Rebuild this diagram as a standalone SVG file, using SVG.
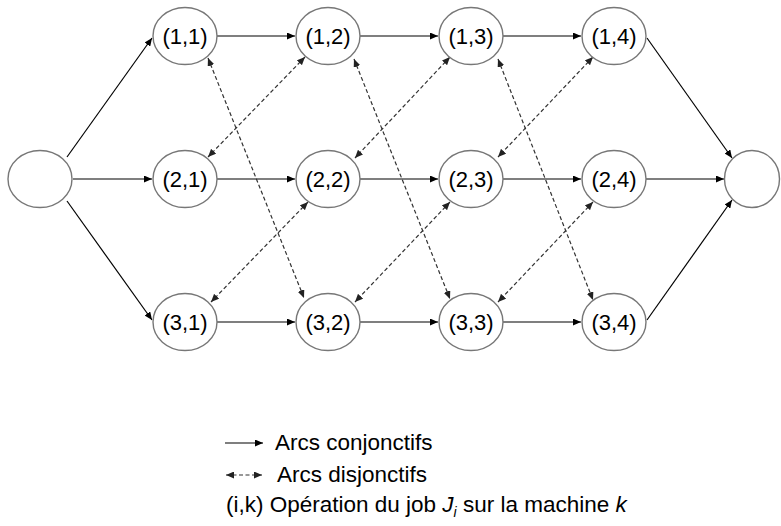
<svg xmlns="http://www.w3.org/2000/svg" width="781" height="526" viewBox="0 0 781 526">
<style>
.node ellipse{fill:#fff;stroke:#777;stroke-width:1.4}
.node text,.legend text{font-family:"Liberation Sans",Arial,sans-serif;font-size:22px;fill:#000}
.legend text{font-size:22.5px}
.node text{text-anchor:middle}
.conj{stroke:#000;stroke-width:1.2;fill:none;marker-end:url(#ah)}
.disj{stroke:#333;stroke-width:1.2;fill:none;stroke-dasharray:4 2.5;marker-start:url(#ahd);marker-end:url(#ahd)}
</style>
<defs>
<marker id="ah" markerUnits="userSpaceOnUse" markerWidth="9" markerHeight="7" refX="8" refY="3.5" orient="auto"><path d="M0,0 L8,3.5 L0,7 Z" fill="#000"/></marker>
<marker id="ahd" markerUnits="userSpaceOnUse" markerWidth="9" markerHeight="7" refX="8" refY="3.5" orient="auto-start-reverse"><path d="M0,0 L8,3.5 L0,7 Z" fill="#222"/></marker>
</defs>
<rect width="781" height="526" fill="#fff"/>
<g id="connectors">
<line class="conj" x1="67" y1="157" x2="152" y2="38"/>
<line class="conj" x1="73" y1="179" x2="152" y2="179"/>
<line class="conj" x1="67" y1="201" x2="152" y2="320"/>
<line class="conj" x1="217" y1="36" x2="295" y2="36"/>
<line class="conj" x1="360" y1="36" x2="438" y2="36"/>
<line class="conj" x1="503" y1="36" x2="581" y2="36"/>
<line class="conj" x1="217" y1="179" x2="295" y2="179"/>
<line class="conj" x1="360" y1="179" x2="438" y2="179"/>
<line class="conj" x1="503" y1="179" x2="581" y2="179"/>
<line class="conj" x1="217" y1="322" x2="295" y2="322"/>
<line class="conj" x1="360" y1="322" x2="438" y2="322"/>
<line class="conj" x1="503" y1="322" x2="581" y2="322"/>
<line class="conj" x1="647" y1="38" x2="732" y2="158"/>
<line class="conj" x1="646" y1="179" x2="724" y2="179"/>
<line class="conj" x1="647" y1="320" x2="732" y2="200"/>
<line class="disj" x1="208" y1="58" x2="304" y2="298"/>
<line class="disj" x1="354" y1="59" x2="450" y2="299"/>
<line class="disj" x1="498" y1="59" x2="593" y2="300"/>
<line class="disj" x1="305" y1="57" x2="208" y2="157"/>
<line class="disj" x1="450" y1="57" x2="355" y2="158"/>
<line class="disj" x1="593" y1="57" x2="498" y2="157"/>
<line class="disj" x1="308" y1="202" x2="211" y2="302"/>
<line class="disj" x1="450" y1="202" x2="355" y2="302"/>
<line class="disj" x1="593" y1="202" x2="498" y2="302"/>
</g>
<g id="source" class="node"><ellipse cx="40" cy="179" rx="32" ry="28.5"/></g>
<g id="sink" class="node"><ellipse cx="752" cy="179" rx="27.5" ry="28.5"/></g>
<g id="n11" class="node"><ellipse cx="185" cy="36" rx="32" ry="28.5"/><text x="185" y="44">(1,1)</text></g>
<g id="n12" class="node"><ellipse cx="328" cy="36" rx="32" ry="28.5"/><text x="328" y="44">(1,2)</text></g>
<g id="n13" class="node"><ellipse cx="471" cy="36" rx="32" ry="28.5"/><text x="471" y="44">(1,3)</text></g>
<g id="n14" class="node"><ellipse cx="614" cy="36" rx="32" ry="28.5"/><text x="614" y="44">(1,4)</text></g>
<g id="n21" class="node"><ellipse cx="185" cy="179" rx="32" ry="28.5"/><text x="185" y="187">(2,1)</text></g>
<g id="n22" class="node"><ellipse cx="328" cy="179" rx="32" ry="28.5"/><text x="328" y="187">(2,2)</text></g>
<g id="n23" class="node"><ellipse cx="471" cy="179" rx="32" ry="28.5"/><text x="471" y="187">(2,3)</text></g>
<g id="n24" class="node"><ellipse cx="614" cy="179" rx="32" ry="28.5"/><text x="614" y="187">(2,4)</text></g>
<g id="n31" class="node"><ellipse cx="185" cy="322" rx="32" ry="28.5"/><text x="185" y="330">(3,1)</text></g>
<g id="n32" class="node"><ellipse cx="328" cy="322" rx="32" ry="28.5"/><text x="328" y="330">(3,2)</text></g>
<g id="n33" class="node"><ellipse cx="471" cy="322" rx="32" ry="28.5"/><text x="471" y="330">(3,3)</text></g>
<g id="n34" class="node"><ellipse cx="614" cy="322" rx="32" ry="28.5"/><text x="614" y="330">(3,4)</text></g>
<g id="legend" class="legend">
<line class="conj" x1="225" y1="443" x2="263" y2="443"/>
<text x="275" y="450">Arcs conjonctifs</text>
<line class="disj" x1="226" y1="475" x2="262" y2="475"/>
<text x="277" y="482">Arcs disjonctifs</text>
<text x="226" y="512">(i,k) Opération du job <tspan font-style="italic">J</tspan><tspan font-style="italic" font-size="14" dy="5">i</tspan><tspan dy="-5"> sur la machine </tspan><tspan font-style="italic">k</tspan></text>
</g>
</svg>
